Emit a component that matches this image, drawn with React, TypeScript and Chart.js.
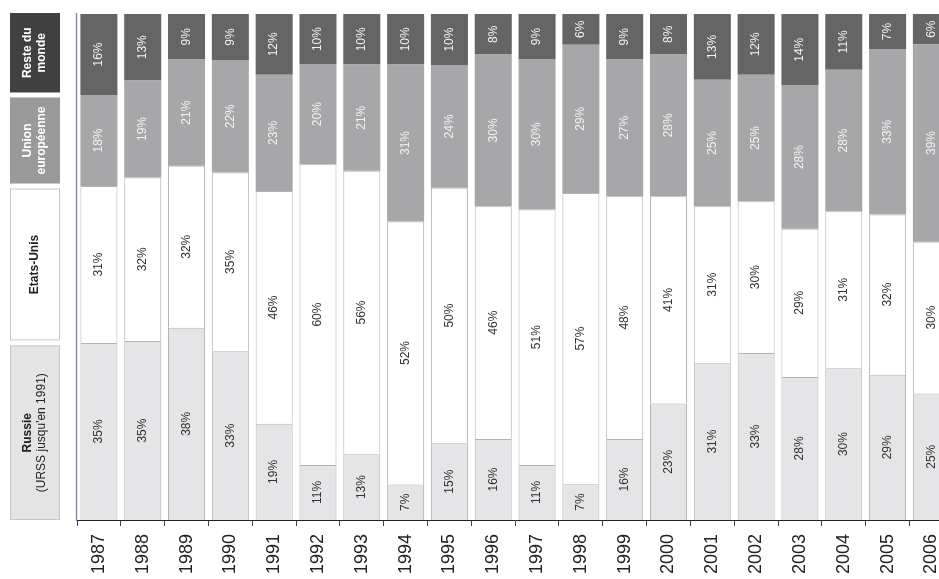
import React, { useEffect, useRef } from "react";
import { Chart, registerables } from "chart.js";

Chart.register(...registerables);

const years = ["1987", "1988", "1989", "1990", "1991", "1992", "1993", "1994", "1995", "1996", "1997", "1998", "1999", "2000", "2001", "2002", "2003", "2004", "2005", "2006"];
const russie = [35, 35, 38, 33, 19, 11, 13, 7, 15, 16, 11, 7, 16, 23, 31, 33, 28, 30, 29, 25];
const etatsUnis = [31, 32, 32, 35, 46, 60, 56, 52, 50, 46, 51, 57, 48, 41, 31, 30, 29, 31, 32, 30];
const unionEuropeenne = [18, 19, 21, 22, 23, 20, 21, 31, 24, 30, 30, 29, 27, 28, 25, 25, 28, 28, 33, 39];
const resteDuMonde = [16, 13, 9, 9, 12, 10, 10, 10, 10, 8, 9, 6, 9, 8, 13, 12, 14, 11, 7, 6];

const seriesRaw = [russie, etatsUnis, unionEuropeenne, resteDuMonde];
const totals = years.map((_, i) => seriesRaw.reduce((s, a) => s + a[i], 0));
const share = (arr: number[]) => arr.map((v, i) => (v * 100) / totals[i]);

const FONT = "Arial, 'Liberation Sans', sans-serif";

const segColors = ["#e5e5e7", "#ffffff", "#a7a7aa", "#656565"];
const segBorders = ["#b4b4b4", "#b4b4b4", "#a7a7aa", "#656565"];
const labelColors = ["#333333", "#333333", "#f2f2f2", "#f2f2f2"];

const legendDefs = [
  { fill: "#e4e4e4", border: "#c8c8c8", color: "#222", lines: [{ t: "Russie", b: true }, { t: "(URSS jusqu'en 1991)", b: false }] },
  { fill: "#ffffff", border: "#c8c8c8", color: "#222", lines: [{ t: "Etats-Unis", b: true }] },
  { fill: "#9a9a9a", border: null, color: "#ffffff", lines: [{ t: "Union", b: true }, { t: "européenne", b: true }] },
  { fill: "#404040", border: null, color: "#ffffff", lines: [{ t: "Reste du", b: true }, { t: "monde", b: true }] },
];

const customPlugin = {
  id: "custom",
  afterDatasetsDraw(chart: any) {
    const ctx = chart.ctx;
    const area = chart.chartArea;
    chart.data.datasets.forEach((ds: any, di: number) => {
      const meta = chart.getDatasetMeta(di);
      meta.data.forEach((el: any, i: number) => {
        const cy = (el.y + el.base) / 2;
        ctx.save();
        ctx.translate(el.x, cy);
        ctx.rotate(-Math.PI / 2);
        ctx.fillStyle = labelColors[di];
        ctx.font = `12px ${FONT}`;
        ctx.textAlign = "center";
        ctx.textBaseline = "middle";
        ctx.fillText(seriesRaw[di][i] + "%", 0, 0);
        ctx.restore();
      });
    });
    ctx.save();
    ctx.strokeStyle = "#8a8ab0";
    ctx.lineWidth = 1.5;
    ctx.beginPath();
    ctx.moveTo(area.left - 0.5, area.top - 1);
    ctx.lineTo(area.left - 0.5, area.bottom + 1);
    ctx.stroke();
    ctx.restore();
    const x0 = 10;
    const w = 50;
    legendDefs.forEach((lg, di) => {
      const el = chart.getDatasetMeta(di).data[0];
      const top = el.y + (di === 3 ? -1 : 2.5);
      const bottom = el.base - (di === 0 ? 0 : 2.5);
      ctx.save();
      ctx.fillStyle = lg.fill;
      ctx.fillRect(x0, top, w, bottom - top);
      if (lg.border) {
        ctx.strokeStyle = lg.border;
        ctx.lineWidth = 1;
        ctx.strokeRect(x0 + 0.5, top + 0.5, w - 1, bottom - top - 1);
      }
      const cy = (top + bottom) / 2;
      const n = lg.lines.length;
      ctx.translate(x0 + w / 2, cy);
      ctx.rotate(-Math.PI / 2);
      ctx.fillStyle = lg.color;
      ctx.textAlign = "center";
      ctx.textBaseline = "middle";
      lg.lines.forEach((ln, k) => {
        ctx.font = `${ln.b ? "bold " : ""}12px ${FONT}`;
        ctx.fillText(ln.t, 0, (k - (n - 1) / 2) * 14);
      });
      ctx.restore();
    });
  },
};

export default function App() {
  const ref = useRef<HTMLCanvasElement>(null);
  useEffect(() => {
    document.body.style.margin = "0";
    const names = ["Russie", "Etats-Unis", "Union européenne", "Reste du monde"];
    const chart = new Chart(ref.current!, {
      type: "bar",
      data: {
        labels: years,
        datasets: seriesRaw.map((arr, di) => ({
          label: names[di],
          data: share(arr),
          backgroundColor: segColors[di],
          borderColor: segBorders[di],
          borderWidth: di < 2 ? 1 : 0,
          barPercentage: 0.845,
          categoryPercentage: 1,
        })),
      },
      options: {
        responsive: false,
        animation: false,
        layout: { padding: { left: 77, top: 14, right: 0, bottom: 0 } },
        plugins: { legend: { display: false }, tooltip: { enabled: false } },
        scales: {
          x: {
            stacked: true,
            grid: { display: true, drawOnChartArea: false, drawTicks: true, tickLength: 6, color: "#444", offset: true },
            border: { color: "#222", width: 1 },
            ticks: { minRotation: 90, maxRotation: 90, padding: 8, color: "#222", font: { size: 18, family: FONT } },
            afterFit: (s: any) => {
              s.height = 59;
            },
          },
          y: { stacked: true, display: false, min: 0, max: 100 },
        },
      },
      plugins: [customPlugin],
    });
    return () => chart.destroy();
  }, []);
  return (
    <div style={{ width: 939, height: 579, overflow: "hidden", background: "#fff" }}>
      <canvas ref={ref} width={961} height={579} style={{ display: "block" }} />
    </div>
  );
}
